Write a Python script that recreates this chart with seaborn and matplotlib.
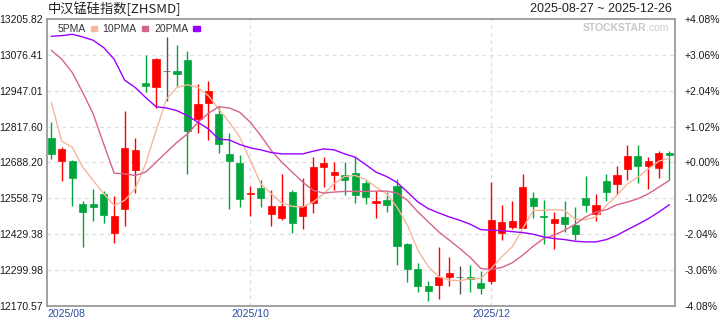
import matplotlib
matplotlib.use("Agg")
import matplotlib.pyplot as plt
from matplotlib.patches import Patch
from matplotlib.transforms import ScaledTranslation
import numpy as np
import pandas as pd
import seaborn as sns

# ---------------- data ----------------
title = "中汉锰硅指数[ZHSMD]"
date_range = "2025-08-27 ~ 2025-12-26"

opens = [12778.0, 12693.0, 12695.4, 12537.2, 12537.2, 12573.1, 12434.2, 12520.4, 12660.6, 12975.7,
         12959.0, 13018.9, 13018.9, 13057.2, 12843.9, 12901.5, 12864.3, 12720.5, 12684.6, 12574.3,
         12594.7, 12502.5, 12488.1, 12580.3, 12495.3, 12542.0, 12671.4, 12642.6, 12641.4, 12648.6,
         12612.7, 12542.0, 12551.6, 12601.9, 12393.4, 12303.5, 12242.4, 12247.2, 12276.0, 12273.6,
         12274.8, 12252.0, 12261.6, 12434.2, 12454.5, 12453.3, 12561.2, 12494.1, 12470.1, 12490.5,
         12461.7, 12558.8, 12503.6, 12619.9, 12610.3, 12664.2, 12713.3, 12675.0, 12667.8, 12724.1]
highs = [12835.6, 12745.7, 12697.0, 12548.0, 12591.1, 12585.1, 12566.0, 12875.1, 12778.0, 13076.4,
         13066.8, 13141.1, 13112.3, 13090.8, 12972.1, 12982.9, 12889.5, 12794.8, 12716.9, 12601.9,
         12623.5, 12587.5, 12645.0, 12589.9, 12630.7, 12709.7, 12709.7, 12688.2, 12688.2, 12709.7,
         12623.5, 12585.1, 12581.5, 12627.1, 12397.0, 12325.1, 12260.4, 12382.6, 12346.7, 12314.3,
         12317.9, 12296.4, 12616.3, 12533.6, 12548.0, 12645.0, 12580.3, 12551.6, 12508.4, 12548.0,
         12526.4, 12637.8, 12573.1, 12645.0, 12673.8, 12752.9, 12752.9, 12709.7, 12731.3, 12731.3]
lows = [12700.2, 12621.1, 12531.2, 12383.8, 12477.3, 12470.1, 12398.2, 12459.3, 12576.7, 12941.0,
        12883.5, 12911.0, 12965.0, 12646.2, 12793.6, 12769.6, 12721.7, 12520.4, 12527.6, 12495.3,
        12527.6, 12459.3, 12482.1, 12434.2, 12448.5, 12506.0, 12599.5, 12587.5, 12570.7, 12542.0,
        12537.2, 12488.1, 12508.4, 12317.9, 12258.0, 12220.9, 12189.7, 12194.5, 12243.6, 12213.7,
        12222.1, 12213.7, 12250.8, 12409.0, 12447.3, 12452.1, 12489.3, 12395.8, 12376.6, 12436.5,
        12407.8, 12508.4, 12476.1, 12548.0, 12569.6, 12623.5, 12612.7, 12591.1, 12630.7, 12623.5]
closes = [12718.1, 12738.5, 12631.9, 12509.6, 12527.6, 12498.9, 12494.1, 12742.1, 12734.9, 12962.6,
          13062.0, 13018.9, 13006.9, 12802.0, 12900.3, 12947.0, 12754.1, 12693.0, 12556.4, 12576.7,
          12560.0, 12530.0, 12530.0, 12470.1, 12530.0, 12670.2, 12684.6, 12652.2, 12624.7, 12570.7,
          12563.6, 12550.4, 12534.8, 12387.4, 12304.7, 12243.6, 12224.5, 12273.6, 12288.0, 12273.6,
          12267.6, 12236.5, 12479.7, 12474.9, 12478.5, 12598.3, 12532.4, 12490.5, 12483.3, 12466.5,
          12430.6, 12534.8, 12533.6, 12581.5, 12641.4, 12713.3, 12675.0, 12695.4, 12724.1, 12714.5]

ma5 = [12905.0, 12764.9, 12743.3, 12671.4, 12623.5, 12575.5, 12533.6, 12551.6, 12593.5, 12683.4,
       12803.2, 12917.0, 12959.0, 12968.6, 12959.0, 12929.0, 12881.1, 12833.2, 12779.2, 12695.4,
       12611.5, 12575.5, 12542.0, 12530.0, 12527.6, 12545.6, 12575.5, 12611.5, 12637.8, 12641.4,
       12627.1, 12599.5, 12575.5, 12527.6, 12461.7, 12371.8, 12311.9, 12276.0, 12264.0, 12261.6,
       12268.8, 12270.0, 12305.9, 12347.9, 12383.8, 12449.7, 12515.6, 12515.6, 12518.0, 12515.6,
       12483.3, 12482.1, 12491.7, 12533.6, 12569.6, 12611.5, 12635.5, 12665.4, 12693.0, 12703.7]
ma10 = [13093.2, 13060.8, 13012.9, 12941.0, 12863.1, 12755.3, 12649.8, 12647.4, 12641.4, 12653.4,
        12689.4, 12725.3, 12761.3, 12791.2, 12833.2, 12865.5, 12889.5, 12884.7, 12869.1, 12833.2,
        12785.2, 12731.3, 12689.4, 12653.4, 12617.5, 12587.5, 12577.9, 12581.5, 12583.9, 12583.9,
        12583.9, 12585.1, 12585.1, 12577.9, 12551.6, 12509.6, 12473.7, 12437.7, 12407.8, 12377.8,
        12345.5, 12305.9, 12302.4, 12309.5, 12326.3, 12353.9, 12386.2, 12413.8, 12425.8, 12443.7,
        12465.3, 12491.7, 12509.6, 12518.0, 12536.0, 12545.6, 12557.6, 12575.5, 12599.5, 12623.5]
ma20 = [13143.5, 13145.9, 13150.7, 13141.1, 13129.1, 13102.7, 13060.8, 12985.3, 12959.0, 12923.0,
        12889.5, 12884.7, 12875.1, 12857.1, 12833.2, 12809.2, 12772.0, 12769.6, 12752.9, 12740.9,
        12733.7, 12724.1, 12719.3, 12719.3, 12719.3, 12728.9, 12737.3, 12733.7, 12719.3, 12707.3,
        12681.0, 12653.4, 12637.8, 12616.3, 12581.5, 12545.6, 12521.6, 12506.0, 12491.7, 12479.7,
        12465.3, 12446.1, 12443.7, 12442.5, 12438.9, 12435.4, 12429.4, 12419.8, 12413.8, 12410.2,
        12404.2, 12401.8, 12401.8, 12410.2, 12425.8, 12446.1, 12465.3, 12485.7, 12509.6, 12536.0]

y_ticks = [13205.82, 13076.41, 12947.01, 12817.60, 12688.20, 12558.79, 12429.38, 12299.98, 12170.57]
pct_ticks = [4.08, 3.06, 2.04, 1.02, 0.00, -1.02, -2.04, -3.06, -4.08]
month_idx = [0, 19, 42]
month_labels = ["2025/08", "2025/10", "2025/12"]
ma_names = ["5PMA", "10PMA", "20PMA"]
ma_colors = ["#f5b89b", "#d7638c", "#9a00ff"]

# ---------------- style ----------------
sns.set_theme(style="white")
plt.rcParams["font.family"] = ["Liberation Sans", "Noto Sans CJK SC", "DejaVu Sans"]

UP = "#ff0000"
DOWN = "#00a63c"
FLAT = "#555555"

fig = plt.figure(figsize=(7.2, 3.2), dpi=100)
ax = fig.add_axes([47 / 720, 14 / 320, 628 / 720, 287 / 320])

df = pd.DataFrame({"idx": np.arange(len(opens)), "open": opens, "high": highs,
                   "low": lows, "close": closes})
cols = np.where(df["close"] > df["open"], UP, np.where(df["close"] < df["open"], DOWN, FLAT))

# grid
for v in y_ticks[1:-1]:
    ax.axhline(v, color="#dedede", lw=0.9, ls=(0, (3, 3)), zorder=0)
for m in month_idx[1:]:
    ax.axvline(m, color="#dedede", lw=0.9, ls=(0, (3, 3)), zorder=0)

# candles
ax.vlines(df["idx"], df["low"], df["high"], colors=cols, lw=1.0, zorder=2)
body_lo = np.minimum(df["open"], df["close"])
body_h = np.maximum(np.abs(df["close"] - df["open"]), 0.8)
ax.bar(df["idx"], body_h, bottom=body_lo, width=0.68, color=cols, edgecolor=cols,
       linewidth=0.5, zorder=3)

# moving averages through seaborn
ma_long = pd.concat([
    pd.DataFrame({"idx": df["idx"], "value": vals, "MA": name})
    for name, vals in zip(ma_names, [ma5, ma10, ma20])
])
sns.lineplot(data=ma_long, x="idx", y="value", hue="MA", hue_order=ma_names,
             palette=dict(zip(ma_names, ma_colors)), linewidth=1.0, legend=False,
             ax=ax, zorder=4)

ax.set_xlim(-0.41, len(opens) - 1 + 0.54)
ax.set_ylim(y_ticks[-1], y_ticks[0])
ax.set_xlabel("")
ax.set_ylabel("")

ax.set_yticks(y_ticks)
ax.set_yticklabels([f"{v:.2f}" for v in y_ticks], fontsize=7.5, color="#1a1a1a")
# first month label sits flush with the left frame
tick_pos = [ax.get_xlim()[0]] + month_idx[1:]
ax.set_xticks(tick_pos)
ax.set_xticklabels(month_labels, fontsize=7.6, color="#2d4c9c")
ax.get_xticklabels()[0].set_horizontalalignment("left")
ax.tick_params(axis="both", length=0)
ax.tick_params(axis="y", pad=3)
ax.tick_params(axis="x", pad=2)

for s in ax.spines.values():
    s.set_color("#9a9a9a")
    s.set_linewidth(1.3)

# right percentage axis
ax2 = ax.twinx()
ax2.set_ylim(pct_ticks[-1], pct_ticks[0])
ax2.set_yticks(pct_ticks)
ax2.set_yticklabels([f"{v:+.2f}%" for v in pct_ticks], fontsize=7.5, color="#1a1a1a")
ax2.tick_params(axis="y", length=0, pad=7)
ax2.grid(False)
for s in ax2.spines.values():
    s.set_visible(False)

# legend
handles = [Patch(facecolor=c, edgecolor=c, label=n) for n, c in zip(ma_names, ma_colors)]
leg = ax.legend(handles=handles, markerfirst=False, ncol=3, loc="upper left",
                bbox_to_anchor=(0.008, 1.0), frameon=False, fontsize=7.5,
                handlelength=0.6, handleheight=0.35, handletextpad=0.5,
                columnspacing=0.55, borderaxespad=0.1)
for t in leg.get_texts():
    t.set_color("#333333")

# watermark
com = ax.text(0.99, 0.985, ".com", transform=ax.transAxes, ha="right", va="top",
              fontsize=7.5, color="#cccccc", zorder=1)
ax.annotate("STOCKSTAR", xy=(0, 1), xycoords=com, ha="right", va="top",
            fontsize=7.5, fontweight="bold", color="#c8c8c8", zorder=1)

# title and date range
fig.text(48 / 720, 1 - 9 / 320, title, fontsize=9.5, va="center", ha="left",
         family=["Noto Sans CJK SC", "DejaVu Sans"], color="#222222")
fig.text(672 / 720, 1 - 9 / 320, date_range, fontsize=9, va="center", ha="right",
         color="#222222")

fig.savefig("out.png", dpi=100)
